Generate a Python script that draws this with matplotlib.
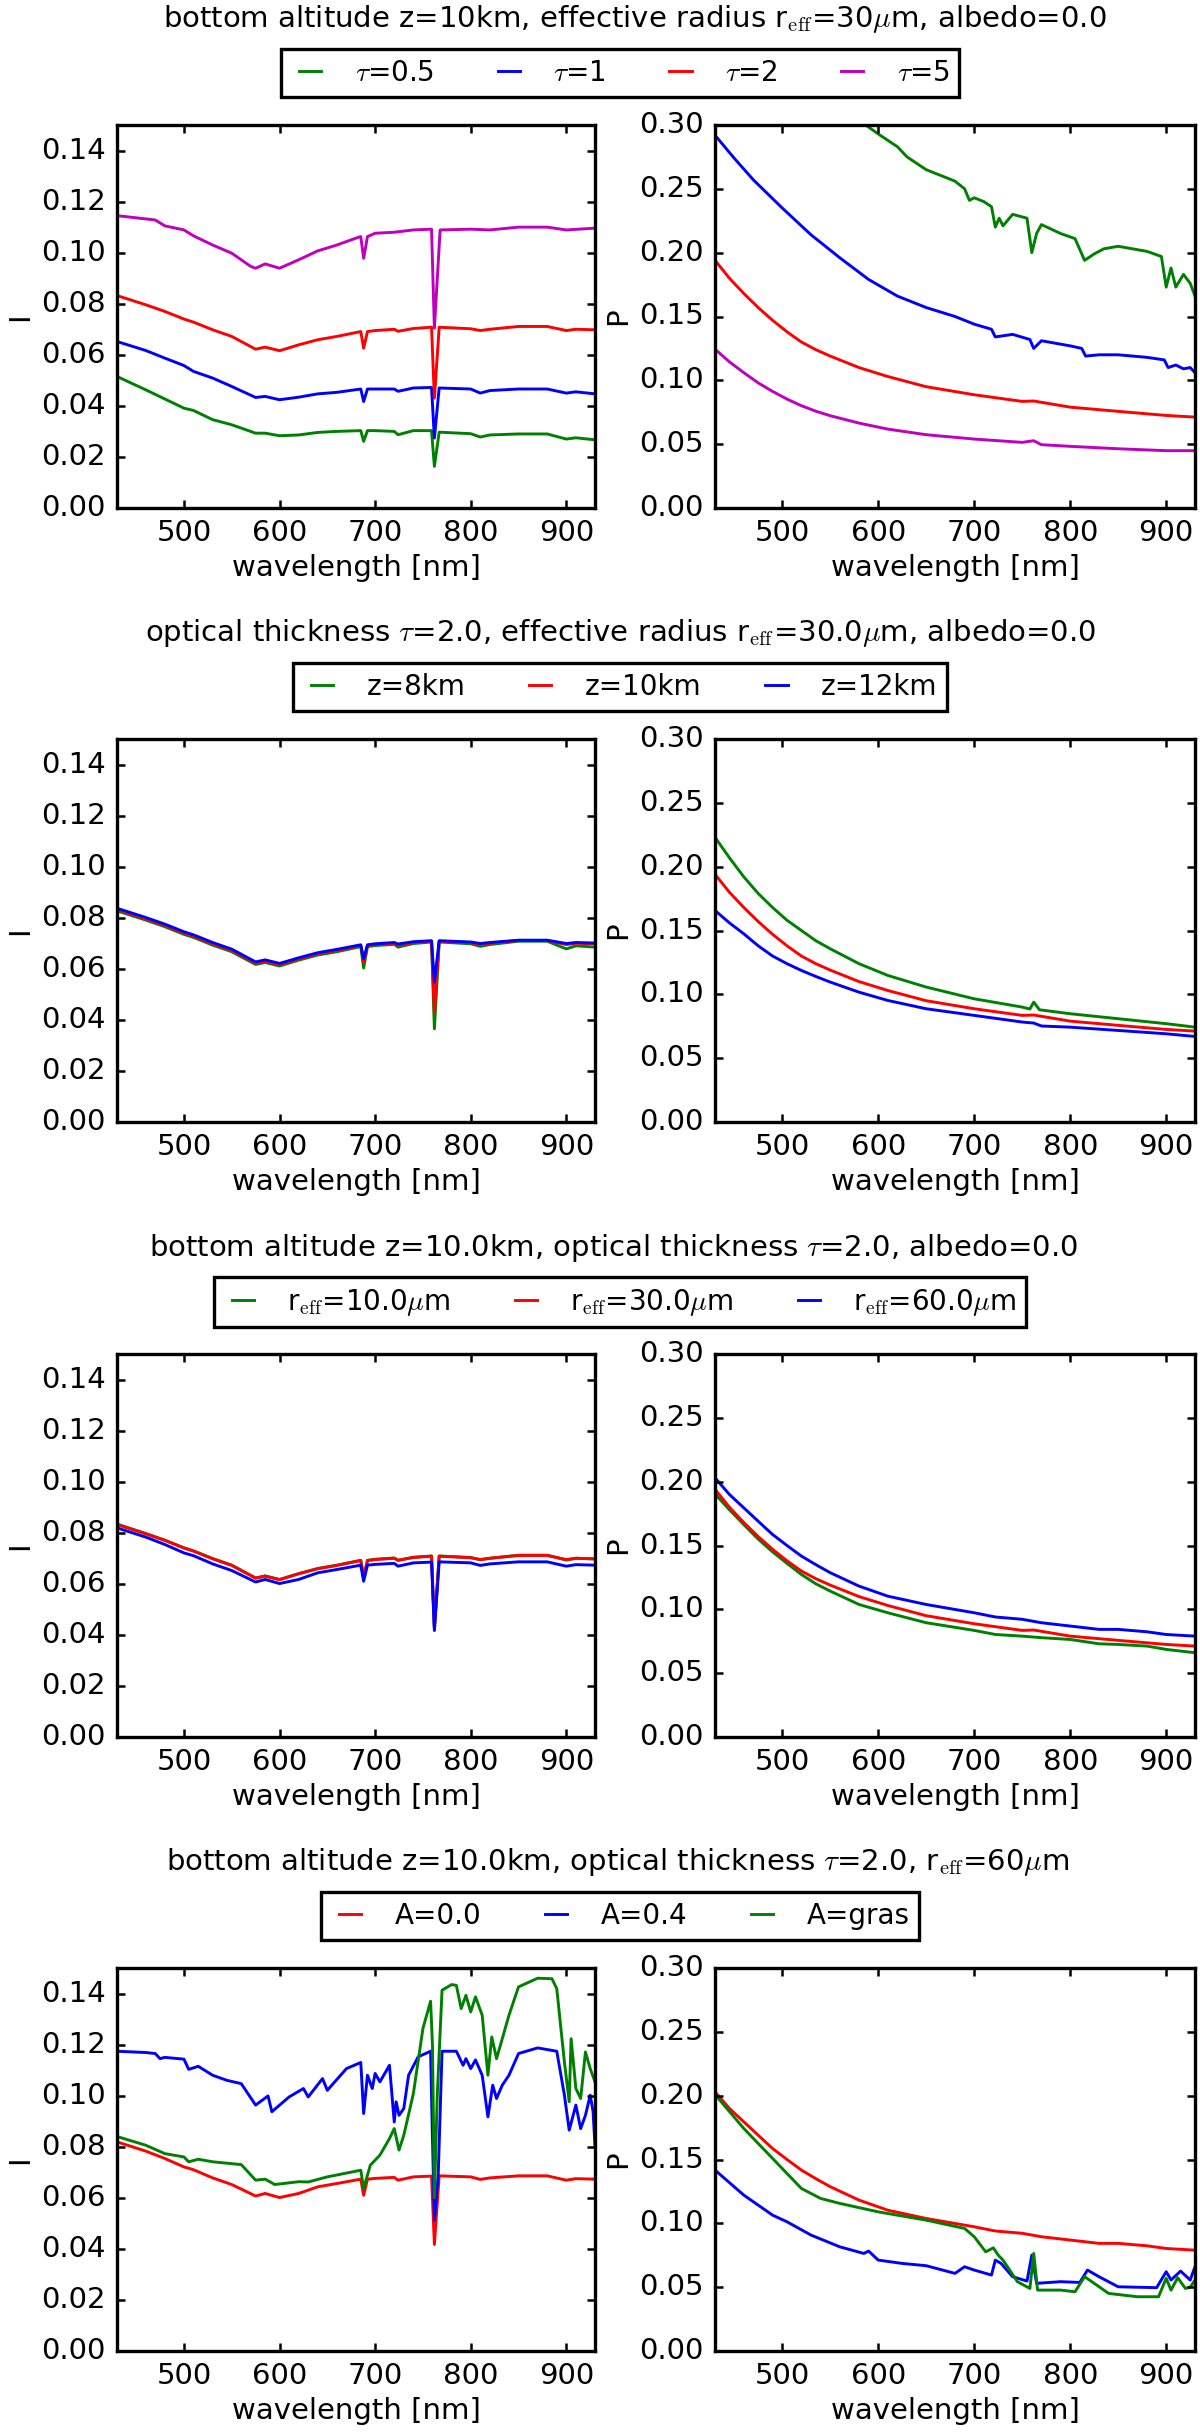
import matplotlib
matplotlib.use("Agg")
import matplotlib.pyplot as plt

# ---- data (wavelength in nm) ----
wl_a = [430, 460, 480, 500, 510, 530, 550, 575, 585, 600, 620, 640, 660, 685, 688, 692,
        700, 720, 724, 740, 759, 762, 767, 800, 810, 820, 850, 880, 900, 910, 930]

# row 1 : intensity for different optical thickness
wl_tau5 = [430, 470, 480, 500, 510, 530, 550, 570, 575, 585, 600, 620, 640, 660, 680, 685,
           688, 692, 700, 720, 740, 759, 762, 768, 800, 820, 850, 880, 900, 930]
I_tau5 = [0.1145, 0.1128, 0.1105, 0.1089, 0.1066, 0.1030, 0.0998, 0.0946, 0.0939, 0.0956,
          0.0939, 0.0972, 0.1007, 0.1030, 0.1057, 0.1063, 0.0978, 0.1063, 0.1076, 0.1080,
          0.1089, 0.1092, 0.0704, 0.1089, 0.1092, 0.1089, 0.1100, 0.1100, 0.1089, 0.1096]
I_tau2 = [0.0832, 0.0796, 0.0770, 0.0740, 0.0728, 0.0698, 0.0672, 0.0622, 0.0630, 0.0616,
          0.0639, 0.0659, 0.0672, 0.0691, 0.0626, 0.0691, 0.0695, 0.0700, 0.0692, 0.0703,
          0.0708, 0.0430, 0.0708, 0.0702, 0.0695, 0.0700, 0.0711, 0.0711, 0.0695, 0.0700, 0.0698]
I_tau1 = [0.0652, 0.0617, 0.0587, 0.0558, 0.0535, 0.0509, 0.0476, 0.0433, 0.0437, 0.0424,
          0.0434, 0.0447, 0.0453, 0.0466, 0.0417, 0.0466, 0.0466, 0.0466, 0.0457, 0.0470,
          0.0472, 0.0274, 0.0470, 0.0466, 0.0450, 0.0460, 0.0466, 0.0466, 0.0450, 0.0455, 0.0447]
I_tau05 = [0.0515, 0.0463, 0.0427, 0.0391, 0.0382, 0.0346, 0.0326, 0.0293, 0.0293, 0.0283,
           0.0286, 0.0296, 0.0300, 0.0303, 0.0261, 0.0303, 0.0303, 0.0300, 0.0287, 0.0303,
           0.0303, 0.0163, 0.0297, 0.0291, 0.0278, 0.0286, 0.0290, 0.0290, 0.0270, 0.0275, 0.0267]

# row 1 : polarisation
wl_p_tau2 = [430, 445, 460, 475, 490, 505, 520, 535, 550, 580, 610, 650, 700, 750, 762, 800, 850, 900, 930]
P_tau2 = [0.194, 0.180, 0.168, 0.157, 0.147, 0.138, 0.130, 0.124, 0.119, 0.110, 0.103, 0.095,
          0.0887, 0.0835, 0.0838, 0.079, 0.0757, 0.0725, 0.0712]
wl_p_tau5 = [430, 445, 460, 475, 490, 505, 520, 535, 550, 580, 610, 650, 700, 750, 762, 770,
             800, 850, 900, 930]
P_tau5 = [0.1244, 0.1145, 0.106, 0.098, 0.0913, 0.0853, 0.0801, 0.0758, 0.0723, 0.0665, 0.0618,
          0.0574, 0.054, 0.0514, 0.0527, 0.0496, 0.0483, 0.0464, 0.0449, 0.0449]
wl_p_tau1 = [430, 450, 470, 500, 530, 560, 590, 620, 650, 680, 700, 718, 722, 740, 758, 762,
             770, 800, 812, 816, 830, 850, 880, 898, 902, 910, 918, 925, 930]
P_tau1 = [0.292, 0.274, 0.257, 0.235, 0.214, 0.196, 0.179, 0.166, 0.157, 0.150, 0.144, 0.140,
          0.134, 0.136, 0.132, 0.125, 0.131, 0.127, 0.125, 0.119, 0.120, 0.120, 0.118, 0.116,
          0.110, 0.112, 0.109, 0.110, 0.106]
wl_p_tau05 = [430, 470, 500, 550, 587, 600, 620, 630, 650, 660, 680, 690, 695, 700, 710, 718,
              722, 726, 730, 740, 755, 760, 765, 770, 790, 805, 815, 825, 835, 850, 880, 895,
              900, 905, 910, 918, 925, 930]
P_tau05 = [0.42, 0.38, 0.355, 0.322, 0.300, 0.293, 0.283, 0.275, 0.265, 0.262, 0.256, 0.250,
           0.241, 0.243, 0.240, 0.236, 0.220, 0.227, 0.221, 0.230, 0.227, 0.200, 0.215, 0.222,
           0.215, 0.211, 0.194, 0.199, 0.203, 0.205, 0.201, 0.197, 0.173, 0.188, 0.173, 0.183,
           0.176, 0.166]

# row 2 : cloud bottom altitude
I_z12 = [0.0837, 0.0801, 0.0775, 0.0745, 0.0733, 0.0703, 0.0677, 0.0627, 0.0635, 0.0621,
         0.0643, 0.0663, 0.0676, 0.0694, 0.0639, 0.0694, 0.0698, 0.0703, 0.0697, 0.0706,
         0.0710, 0.0548, 0.0710, 0.0705, 0.0699, 0.0703, 0.0712, 0.0712, 0.0699, 0.0703, 0.0701]
I_z8 = [0.0827, 0.0791, 0.0765, 0.0735, 0.0723, 0.0693, 0.0667, 0.0617, 0.0625, 0.0611,
        0.0634, 0.0654, 0.0667, 0.0687, 0.0603, 0.0687, 0.0691, 0.0696, 0.0685, 0.0699,
        0.0705, 0.0365, 0.0705, 0.0698, 0.0688, 0.0695, 0.0708, 0.0708, 0.0678, 0.0690, 0.0685]
wl_p_z8 = [430, 445, 460, 475, 490, 505, 520, 535, 550, 580, 610, 650, 700, 750, 758, 762,
           768, 800, 850, 900, 930]
P_z8 = [0.223, 0.207, 0.192, 0.179, 0.168, 0.158, 0.150, 0.142, 0.1357, 0.124, 0.1148, 0.1057,
        0.0965, 0.090, 0.0885, 0.0939, 0.0879, 0.0848, 0.0809, 0.077, 0.0743]
wl_p_z12 = [430, 445, 460, 475, 490, 505, 520, 535, 550, 580, 610, 650, 700, 750, 762, 770,
            800, 850, 900, 930]
P_z12 = [0.1657, 0.156, 0.1474, 0.138, 0.130, 0.124, 0.1187, 0.114, 0.1096, 0.1017, 0.0952,
         0.0887, 0.0835, 0.0783, 0.0775, 0.0752, 0.0743, 0.0717, 0.0691, 0.067]

# row 3 : effective radius
I_r60 = [0.0819, 0.0783, 0.0754, 0.0721, 0.0710, 0.0678, 0.0652, 0.0607, 0.0617, 0.0601,
         0.0617, 0.0643, 0.0656, 0.0673, 0.0610, 0.0673, 0.0676, 0.0680, 0.0669, 0.0682,
         0.0685, 0.0417, 0.0686, 0.0682, 0.0672, 0.0678, 0.0686, 0.0686, 0.0669, 0.0675, 0.0673]
I_r10 = [0.0834, 0.0797, 0.0771, 0.0741, 0.0729, 0.0699, 0.0673, 0.0623, 0.0631, 0.0617,
         0.0640, 0.0660, 0.0673, 0.0692, 0.0622, 0.0692, 0.0696, 0.0701, 0.0692, 0.0704,
         0.0709, 0.0425, 0.0709, 0.0703, 0.0694, 0.0700, 0.0712, 0.0712, 0.0693, 0.0700, 0.0697]
wl_p_r = [430, 445, 460, 475, 490, 505, 520, 535, 550, 580, 610, 650, 700, 722, 750, 770,
          800, 830, 850, 880, 900, 930]
P_r60 = [0.203, 0.190, 0.1795, 0.169, 0.1586, 0.150, 0.1417, 0.135, 0.1287, 0.1182, 0.1103,
         0.1038, 0.0973, 0.094, 0.0922, 0.0895, 0.0869, 0.0843, 0.0843, 0.0824, 0.0803, 0.079]
P_r10 = [0.1904, 0.178, 0.1664, 0.155, 0.145, 0.136, 0.1273, 0.120, 0.1143, 0.1038, 0.0973,
         0.0895, 0.0835, 0.0803, 0.079, 0.0778, 0.0764, 0.073, 0.0725, 0.0712, 0.0686, 0.066]

# row 4 : surface albedo
wl_A04 = [430, 460, 470, 475, 480, 500, 505, 515, 530, 545, 560, 575, 588, 592, 610, 625, 630,
          645, 650, 670, 685, 688, 692, 697, 700, 705, 715, 720, 722, 725, 730, 735, 745, 758,
          760, 762, 766, 770, 785, 792, 795, 800, 805, 812, 818, 823, 827, 833, 840, 850, 870,
          890, 898, 903, 910, 915, 920, 925, 928, 930]
I_A04 = [0.1174, 0.1169, 0.1165, 0.1145, 0.1150, 0.1143, 0.1103, 0.1115, 0.1080, 0.1060,
         0.1047, 0.0963, 0.0999, 0.0937, 0.0995, 0.1028, 0.0995, 0.1067, 0.1021, 0.1106,
         0.1130, 0.0930, 0.1080, 0.1028, 0.1087, 0.1054, 0.1119, 0.0897, 0.0976, 0.0923,
         0.0950, 0.1080, 0.1152, 0.1174, 0.0832, 0.0513, 0.0689, 0.1174, 0.1174, 0.1119,
         0.1145, 0.1106, 0.1140, 0.1080, 0.0917, 0.1041, 0.0989, 0.1041, 0.1080, 0.1165,
         0.1187, 0.1174, 0.1002, 0.0865, 0.0963, 0.0871, 0.0923, 0.1002, 0.0937, 0.0800]
wl_gras = [430, 460, 480, 500, 505, 515, 530, 560, 575, 585, 595, 620, 630, 650, 685, 688, 695,
           705, 715, 720, 725, 730, 740, 750, 758, 760, 762, 765, 770, 780, 785, 790, 795, 800,
           805, 812, 818, 822, 827, 832, 840, 850, 870, 885, 890, 898, 903, 905, 910, 915, 920,
           925, 930]
I_gras = [0.0840, 0.0806, 0.0773, 0.0760, 0.0741, 0.0751, 0.0741, 0.0730, 0.0669, 0.0673,
          0.0652, 0.0663, 0.0662, 0.0682, 0.0708, 0.0637, 0.0728, 0.0767, 0.0832, 0.0871,
          0.0787, 0.0845, 0.1008, 0.1263, 0.1370, 0.1197, 0.0600, 0.1000, 0.1413, 0.1435,
          0.1432, 0.1341, 0.1393, 0.1328, 0.1387, 0.1315, 0.1080, 0.1230, 0.1145, 0.1210,
          0.1315, 0.1426, 0.1460, 0.1458, 0.1419, 0.1132, 0.0976, 0.1223, 0.1028, 0.0989,
          0.1171, 0.1106, 0.1054]
wl_p_A04 = [430, 460, 490, 505, 530, 560, 585, 590, 600, 625, 650, 680, 690, 700, 718, 722,
            728, 740, 755, 760, 765, 790, 810, 818, 830, 850, 890, 900, 905, 915, 925, 930]
P_A04 = [0.1417, 0.1221, 0.1064, 0.1012, 0.0908, 0.0816, 0.0764, 0.0783, 0.0712, 0.0686,
         0.0668, 0.0608, 0.0660, 0.0634, 0.0595, 0.0712, 0.0686, 0.0582, 0.0548, 0.0751,
         0.0530, 0.0543, 0.0537, 0.0634, 0.0582, 0.0503, 0.0496, 0.0621, 0.0556, 0.0626,
         0.0556, 0.0660]
wl_p_gras = [430, 460, 490, 520, 540, 560, 600, 650, 690, 700, 712, 720, 725, 730, 745, 758,
             762, 766, 790, 805, 815, 825, 840, 870, 892, 900, 905, 912, 920, 925, 930]
P_gras = [0.2009, 0.1743, 0.1508, 0.1273, 0.1195, 0.1156, 0.1090, 0.1025, 0.0960, 0.0895,
          0.0777, 0.0808, 0.0751, 0.0712, 0.0543, 0.0490, 0.0764, 0.0477, 0.0477, 0.0464,
          0.0582, 0.0530, 0.0451, 0.0425, 0.0425, 0.0569, 0.0477, 0.0574, 0.0490, 0.0500,
          0.0556]

titles = [
    r"bottom altitude z=10km, effective radius r$_{\rm eff}$=30$\mu$m, albedo=0.0",
    r"optical thickness $\tau$=2.0, effective radius r$_{\rm eff}$=30.0$\mu$m, albedo=0.0",
    r"bottom altitude z=10.0km, optical thickness $\tau$=2.0, albedo=0.0",
    r"bottom altitude z=10.0km, optical thickness $\tau$=2.0, r$_{\rm eff}$=60$\mu$m",
]

rows = [
    [(wl_a, I_tau05, wl_p_tau05, P_tau05, "g", r"$\tau$=0.5"),
     (wl_a, I_tau1, wl_p_tau1, P_tau1, "b", r"$\tau$=1"),
     (wl_a, I_tau2, wl_p_tau2, P_tau2, "r", r"$\tau$=2"),
     (wl_tau5, I_tau5, wl_p_tau5, P_tau5, "m", r"$\tau$=5")],
    [(wl_a, I_z8, wl_p_z8, P_z8, "g", "z=8km"),
     (wl_a, I_tau2, wl_p_tau2, P_tau2, "r", "z=10km"),
     (wl_a, I_z12, wl_p_z12, P_z12, "b", "z=12km")],
    [(wl_a, I_r10, wl_p_r, P_r10, "g", r"r$_{\rm eff}$=10.0$\mu$m"),
     (wl_a, I_tau2, wl_p_tau2, P_tau2, "r", r"r$_{\rm eff}$=30.0$\mu$m"),
     (wl_a, I_r60, wl_p_r, P_r60, "b", r"r$_{\rm eff}$=60.0$\mu$m")],
    [(wl_a, I_r60, wl_p_r, P_r60, "r", "A=0.0"),
     (wl_A04, I_A04, wl_p_A04, P_A04, "b", "A=0.4"),
     (wl_gras, I_gras, wl_p_gras, P_gras, "g", "A=gras")],
]

plt.style.use("classic")
plt.rcParams["font.family"] = ["DejaVu Sans"]
plt.rcParams["mathtext.fontset"] = "cm"
plt.rcParams["font.size"] = 21
plt.rcParams["axes.linewidth"] = 2.4
plt.rcParams["xtick.major.size"] = 6
plt.rcParams["ytick.major.size"] = 6
plt.rcParams["xtick.major.width"] = 1.8
plt.rcParams["ytick.major.width"] = 1.8
plt.rcParams["xtick.major.pad"] = 8
plt.rcParams["ytick.major.pad"] = 8

W, H = 1200, 2433
fig = plt.figure(figsize=(W / 100, H / 100), dpi=100, facecolor="white")


def rect(x, y, w, h):
    return [x / W, 1 - (y + h) / H, w / W, h / H]


tops = [125, 739, 1354, 1968]
title_x = [635, 621, 614, 618]

for k, series in enumerate(rows):
    top = tops[k]
    axI = fig.add_axes(rect(117, top, 478, 383))
    axP = fig.add_axes(rect(715, top, 480, 383))
    handles = []
    for wI, I, wP, P, col, lab in series:
        h, = axI.plot(wI, I, color=col, lw=2.1, label=lab)
        axP.plot(wP, P, color=col, lw=2.1)
        handles.append(h)

    axI.set_xlim(430, 930)
    axI.set_ylim(0, 0.15)
    axI.set_yticks([0.0, 0.02, 0.04, 0.06, 0.08, 0.10, 0.12, 0.14])
    axI.set_ylabel("I")
    axP.set_xlim(430, 930)
    axP.set_ylim(0, 0.30)
    axP.set_yticks([0.0, 0.05, 0.10, 0.15, 0.20, 0.25, 0.30])
    axP.set_ylabel("P")
    for ax in (axI, axP):
        ax.set_xticks([500, 600, 700, 800, 900])
        ax.set_xlabel("wavelength [nm]")
        ax.set_facecolor("white")

    fig.text(title_x[k] / W, 1 - (top - 106) / H, titles[k], ha="center", va="center",
             fontsize=21)
    leg = fig.legend(handles, [s[5] for s in series], loc="center",
                     bbox_to_anchor=(620 / W, 1 - (top - 52) / H), ncol=len(series),
                     fontsize=20, frameon=True, fancybox=False, handlelength=1.4,
                     handletextpad=0.9, columnspacing=2.0, borderpad=0.35, numpoints=2)
    leg.get_frame().set_linewidth(2.4)
    leg.get_frame().set_edgecolor("black")

fig.savefig("out.png", dpi=100, facecolor="white")
